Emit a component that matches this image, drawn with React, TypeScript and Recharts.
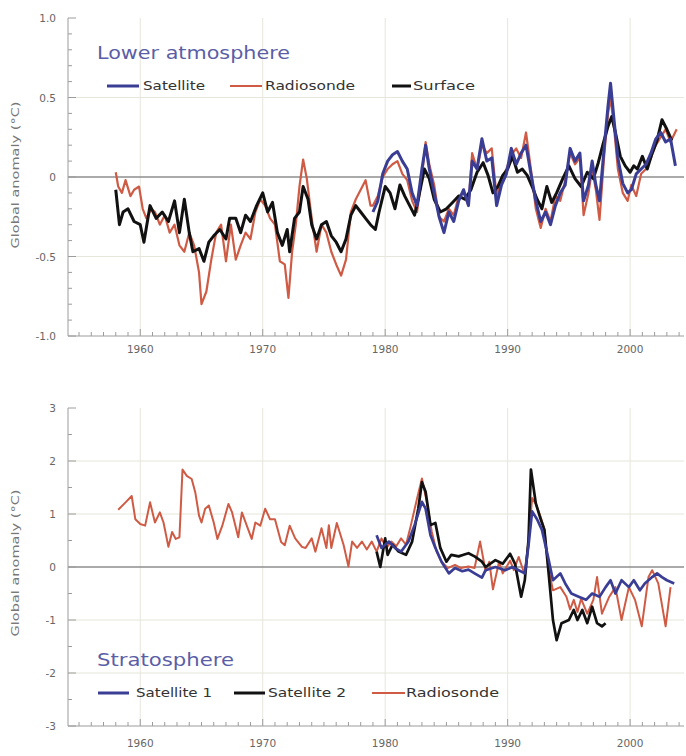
import { LineChart, Line, XAxis, YAxis, CartesianGrid, ReferenceLine } from "recharts"

type Pt = [number, number]

// ---- data (year, anomaly °C) ----

const decadeLabels = [1960, 1970, 1980, 1990, 2000]

const lowerSurface: Pt[] = [
  [1958.0, -0.08], [1958.3, -0.3], [1958.6, -0.22], [1959.0, -0.2], [1959.5, -0.28], [1960.0, -0.3],
  [1960.3, -0.41], [1960.8, -0.18], [1961.3, -0.26], [1961.8, -0.22], [1962.3, -0.28], [1962.8, -0.15],
  [1963.2, -0.35], [1963.6, -0.14], [1964.0, -0.35], [1964.3, -0.47], [1964.8, -0.45], [1965.2, -0.53],
  [1965.6, -0.41], [1966.0, -0.37], [1966.5, -0.33], [1967.0, -0.39], [1967.3, -0.26], [1967.8, -0.26],
  [1968.2, -0.35], [1968.6, -0.24], [1969.0, -0.28], [1969.5, -0.18], [1970.0, -0.1], [1970.4, -0.22],
  [1970.8, -0.16], [1971.2, -0.35], [1971.6, -0.43], [1972.0, -0.33], [1972.2, -0.47], [1972.6, -0.26],
  [1973.0, -0.22], [1973.3, -0.06], [1973.7, -0.14], [1974.0, -0.3], [1974.4, -0.39], [1974.8, -0.3],
  [1975.2, -0.28], [1975.6, -0.37], [1976.0, -0.41], [1976.4, -0.47], [1976.8, -0.39], [1977.2, -0.24],
  [1977.6, -0.18], [1978.0, -0.22], [1978.4, -0.26], [1978.8, -0.3], [1979.2, -0.33], [1979.5, -0.22],
  [1980.0, -0.06], [1980.4, -0.1], [1980.8, -0.2], [1981.2, -0.05], [1981.6, -0.12], [1982.0, -0.18],
  [1982.4, -0.24], [1982.7, -0.14], [1983.2, 0.05], [1983.6, -0.01], [1984.0, -0.14], [1984.5, -0.22],
  [1985.0, -0.2], [1985.5, -0.16], [1986.0, -0.12], [1986.5, -0.14], [1987.0, -0.08], [1987.5, 0.03],
  [1988.0, 0.09], [1988.4, 0.01], [1988.8, -0.1], [1989.2, -0.06], [1989.6, 0.01], [1990.0, 0.05],
  [1990.4, 0.13], [1990.8, 0.03], [1991.2, 0.05], [1991.6, 0.01], [1992.0, -0.06], [1992.4, -0.14],
  [1992.8, -0.2], [1993.2, -0.06], [1993.6, -0.16], [1994.0, -0.1], [1994.5, -0.01], [1995.0, 0.07],
  [1995.5, -0.01], [1996.0, -0.06], [1996.5, 0.03], [1997.0, -0.01], [1997.4, 0.09], [1997.8, 0.21],
  [1998.2, 0.32], [1998.5, 0.38], [1998.8, 0.28], [1999.2, 0.13], [1999.6, 0.07], [2000.0, 0.03],
  [2000.3, 0.07], [2000.6, 0.05], [2001.0, 0.13], [2001.4, 0.05], [2001.8, 0.15], [2002.2, 0.23],
  [2002.6, 0.36], [2003.0, 0.3], [2003.4, 0.23],
]

const lowerRadiosonde: Pt[] = [
  [1958.0, 0.03], [1958.2, -0.06], [1958.5, -0.1], [1958.8, -0.02], [1959.2, -0.12], [1959.5, -0.08],
  [1959.9, -0.06], [1960.2, -0.2], [1960.5, -0.26], [1960.9, -0.2], [1961.2, -0.22], [1961.6, -0.3],
  [1962.0, -0.24], [1962.4, -0.35], [1962.8, -0.3], [1963.2, -0.43], [1963.6, -0.47], [1964.0, -0.35],
  [1964.4, -0.43], [1964.8, -0.6], [1965.0, -0.8], [1965.4, -0.72], [1965.8, -0.52], [1966.2, -0.35],
  [1966.6, -0.3], [1967.0, -0.53], [1967.4, -0.3], [1967.8, -0.52], [1968.2, -0.43], [1968.6, -0.35],
  [1969.0, -0.39], [1969.4, -0.22], [1969.8, -0.14], [1970.2, -0.18], [1970.6, -0.26], [1971.0, -0.3],
  [1971.4, -0.53], [1971.8, -0.55], [1972.1, -0.76], [1972.4, -0.47], [1972.7, -0.3], [1973.0, -0.06],
  [1973.3, 0.11], [1973.6, -0.01], [1974.0, -0.26], [1974.4, -0.47], [1974.8, -0.3], [1975.2, -0.35],
  [1975.6, -0.47], [1976.0, -0.55], [1976.4, -0.62], [1976.8, -0.52], [1977.2, -0.22], [1977.6, -0.14],
  [1978.0, -0.08], [1978.4, -0.02], [1978.8, -0.18], [1979.0, -0.18], [1979.4, -0.12], [1979.8, 0.0],
  [1980.2, 0.05], [1980.6, 0.08], [1981.0, 0.1], [1981.4, 0.02], [1981.8, -0.02], [1982.2, -0.15],
  [1982.6, -0.22], [1983.0, 0.0], [1983.3, 0.22], [1983.6, 0.08], [1984.0, -0.05], [1984.4, -0.25],
  [1984.8, -0.28], [1985.2, -0.2], [1985.6, -0.24], [1986.0, -0.12], [1986.4, -0.1], [1986.8, -0.18],
  [1987.1, 0.15], [1987.5, 0.05], [1987.9, 0.2], [1988.3, 0.15], [1988.7, 0.18], [1989.1, -0.12],
  [1989.5, -0.02], [1989.9, 0.05], [1990.3, 0.14], [1990.7, 0.18], [1991.1, 0.12], [1991.5, 0.28],
  [1991.9, 0.05], [1992.3, -0.2], [1992.7, -0.32], [1993.1, -0.2], [1993.5, -0.28], [1993.9, -0.12],
  [1994.3, -0.15], [1994.7, -0.02], [1995.1, 0.15], [1995.5, 0.08], [1995.9, 0.12], [1996.2, -0.24],
  [1996.6, -0.1], [1996.9, 0.05], [1997.2, -0.08], [1997.5, -0.27], [1997.9, 0.15], [1998.2, 0.4],
  [1998.4, 0.5], [1998.7, 0.3], [1999.0, 0.05], [1999.4, -0.1], [1999.8, -0.15], [2000.1, -0.05],
  [2000.5, -0.12], [2000.9, 0.02], [2001.3, 0.05], [2001.7, 0.12], [2002.1, 0.2], [2002.5, 0.25],
  [2002.9, 0.3], [2003.3, 0.22], [2003.8, 0.3],
]

const lowerSatellite: Pt[] = [
  [1979.0, -0.22], [1979.4, -0.15], [1979.8, 0.02], [1980.2, 0.1], [1980.6, 0.14], [1981.0, 0.16],
  [1981.4, 0.1], [1981.8, 0.05], [1982.2, -0.1], [1982.6, -0.18], [1983.0, 0.05], [1983.3, 0.2],
  [1983.6, 0.05], [1984.0, -0.1], [1984.4, -0.25], [1984.8, -0.35], [1985.2, -0.22], [1985.6, -0.28],
  [1986.0, -0.15], [1986.4, -0.08], [1986.8, -0.18], [1987.1, 0.1], [1987.5, 0.05], [1987.9, 0.24],
  [1988.3, 0.1], [1988.7, 0.12], [1989.1, -0.18], [1989.5, -0.05], [1989.9, 0.02], [1990.3, 0.18],
  [1990.7, 0.08], [1991.1, 0.15], [1991.5, 0.2], [1991.9, 0.02], [1992.3, -0.15], [1992.7, -0.28],
  [1993.1, -0.22], [1993.5, -0.3], [1993.9, -0.18], [1994.3, -0.1], [1994.7, -0.05], [1995.1, 0.18],
  [1995.5, 0.1], [1995.9, 0.15], [1996.2, -0.15], [1996.6, -0.05], [1996.9, 0.1], [1997.2, -0.05],
  [1997.5, -0.15], [1997.9, 0.2], [1998.2, 0.45], [1998.4, 0.59], [1998.7, 0.35], [1999.0, 0.12],
  [1999.4, -0.04], [1999.8, -0.1], [2000.1, -0.08], [2000.5, 0.02], [2000.9, 0.05], [2001.3, 0.08],
  [2001.7, 0.15], [2002.1, 0.24], [2002.5, 0.28], [2002.9, 0.22], [2003.3, 0.24], [2003.7, 0.07],
]

const stratRadiosonde: Pt[] = [
  [1958.2, 1.08], [1958.8, 1.22], [1959.3, 1.34], [1959.6, 0.9], [1960.0, 0.81], [1960.4, 0.78],
  [1960.8, 1.22], [1961.2, 0.84], [1961.6, 1.03], [1961.9, 0.84], [1962.3, 0.38], [1962.6, 0.66],
  [1962.9, 0.53], [1963.2, 0.56], [1963.45, 1.84], [1963.8, 1.72], [1964.2, 1.66], [1964.5, 1.4],
  [1964.8, 0.97], [1965.0, 0.84], [1965.3, 1.1], [1965.6, 1.16], [1966.0, 0.84], [1966.3, 0.53],
  [1966.7, 0.78], [1967.2, 1.19], [1967.5, 1.03], [1968.0, 0.56], [1968.3, 1.03], [1968.7, 0.78],
  [1969.1, 0.53], [1969.4, 0.84], [1969.8, 0.78], [1970.2, 1.1], [1970.6, 0.9], [1971.0, 0.9],
  [1971.5, 0.47], [1971.8, 0.41], [1972.2, 0.78], [1972.65, 0.54], [1973.2, 0.38], [1973.5, 0.36],
  [1974.0, 0.54], [1974.3, 0.29], [1974.8, 0.73], [1975.2, 0.36], [1975.4, 0.79], [1975.6, 0.36],
  [1976.05, 0.83], [1976.6, 0.42], [1977.0, 0.01], [1977.3, 0.48], [1977.7, 0.36], [1978.1, 0.48],
  [1978.5, 0.33], [1978.9, 0.48], [1979.3, 0.29], [1979.7, 0.54], [1980.1, 0.36], [1980.5, 0.48],
  [1980.9, 0.39], [1981.3, 0.54], [1981.7, 0.42], [1982.1, 0.79], [1982.6, 1.29], [1983.0, 1.67],
  [1983.4, 1.23], [1983.8, 0.67], [1984.2, 0.29], [1984.6, 0.1], [1985.1, -0.02], [1985.7, 0.04],
  [1986.2, -0.02], [1986.8, 0.01], [1987.3, -0.02], [1987.75, 0.48], [1988.2, -0.08], [1988.5, 0.1],
  [1988.8, -0.42], [1989.3, 0.1], [1989.6, -0.12], [1990.2, 0.12], [1990.5, -0.06], [1990.9, 0.19],
  [1991.4, -0.15], [1991.7, 0.5], [1992.0, 1.3], [1992.3, 1.19], [1992.7, 0.94], [1993.0, 0.72],
  [1993.3, 0.0], [1993.7, -0.44], [1994.3, -0.38], [1994.8, -0.56], [1995.1, -0.8], [1995.4, -0.62],
  [1995.7, -0.85], [1996.0, -0.6], [1996.5, -0.88], [1997.0, -0.62], [1997.3, -0.19], [1997.7, -0.88],
  [1998.3, -0.56], [1998.8, -0.38], [1999.3, -1.0], [1999.9, -0.38], [2000.4, -0.62], [2000.95, -1.12],
  [2001.5, -0.19], [2001.8, -0.06], [2002.3, -0.31], [2002.9, -1.12], [2003.3, -0.38],
]

const stratSatellite2: Pt[] = [
  [1979.3, 0.29], [1979.6, 0.0], [1980.0, 0.54], [1980.2, 0.23], [1980.6, 0.42], [1981.1, 0.29],
  [1981.7, 0.23], [1982.2, 0.48], [1982.7, 1.1], [1983.0, 1.6], [1983.3, 1.42], [1983.7, 0.79],
  [1984.1, 0.83], [1984.5, 0.36], [1985.0, 0.1], [1985.4, 0.23], [1986.0, 0.2], [1986.4, 0.23],
  [1986.8, 0.26], [1987.3, 0.2], [1987.9, 0.1], [1988.2, 0.0], [1989.0, 0.13], [1989.6, 0.06],
  [1990.2, 0.25], [1990.6, 0.06], [1991.1, -0.56], [1991.4, -0.25], [1991.7, 0.5], [1991.9, 1.84],
  [1992.3, 1.2], [1992.7, 0.9], [1993.0, 0.7], [1993.3, 0.0], [1993.7, -1.0], [1994.0, -1.38],
  [1994.4, -1.06], [1995.0, -1.0], [1995.4, -0.81], [1995.7, -1.0], [1996.1, -0.81], [1996.5, -1.06],
  [1996.9, -0.75], [1997.3, -1.06], [1997.7, -1.12], [1998.0, -1.06],
]

const stratSatellite1: Pt[] = [
  [1979.3, 0.6], [1979.7, 0.36], [1980.3, 0.48], [1980.8, 0.36], [1981.3, 0.29], [1981.9, 0.48],
  [1982.4, 0.79], [1983.0, 1.23], [1983.3, 1.1], [1983.7, 0.6], [1984.1, 0.36], [1984.6, 0.1],
  [1985.2, -0.12], [1985.7, -0.02], [1986.3, -0.08], [1986.8, -0.05], [1987.3, -0.12], [1987.9, -0.2],
  [1988.2, -0.06], [1989.0, 0.0], [1989.8, -0.06], [1990.4, 0.0], [1990.9, -0.06], [1991.4, -0.12],
  [1991.7, 0.4], [1992.0, 1.05], [1992.4, 0.9], [1992.8, 0.7], [1993.3, 0.19], [1993.7, -0.25],
  [1994.3, -0.12], [1994.7, -0.31], [1995.2, -0.5], [1995.8, -0.56], [1996.4, -0.62], [1996.9, -0.5],
  [1997.5, -0.56], [1998.0, -0.38], [1998.4, -0.25], [1998.8, -0.5], [1999.3, -0.25], [1999.9, -0.38],
  [2000.3, -0.25], [2000.8, -0.44], [2001.2, -0.31], [2001.8, -0.19], [2002.2, -0.12], [2002.6, -0.19],
  [2003.0, -0.25], [2003.6, -0.31],
]

const lowerYTicks = [-1, -0.9, -0.8, -0.7, -0.6, -0.5, -0.4, -0.3, -0.2, -0.1, 0, 0.1, 0.2, 0.3, 0.4, 0.5, 0.6, 0.7, 0.8, 0.9, 1]
const lowerYLabels = [-1, -0.5, 0, 0.5, 1]
const stratYTicks = [-3, -2.5, -2, -1.5, -1, -0.5, 0, 0.5, 1, 1.5, 2, 2.5, 3]
const stratYLabels = [-3, -2, -1, 0, 1, 2, 3]

// ---- styling ----
const X_DOMAIN: [number, number] = [1954.1, 2004.4]
const yearTicks = Array.from({ length: 50 }, (_, i) => 1955 + i)
const FRAME = "#9c9c9c"
const GRID = "#e6e6dc"
const FONT = "'DejaVu Sans', 'Open Sans', sans-serif"
const BLUE = "#3a3d94"
const RED = "#cf5b45"
const BLACK = "#111111"
const TITLE = "#5b5ea6"

const toRows = (pts: Pt[]) => pts.map(([year, value]) => ({ year, value }))

interface Series {
  name: string
  pts: Pt[]
  color: string
  width: number
}

interface PanelProps {
  top: number
  marginTop: number
  axisHeight: number
  labelDy: number
  yDomain: [number, number]
  yTicks: number[]
  yLabels: number[]
  fmtY: (v: number) => string
  gridY: number[]
  series: Series[]
}

function Panel({ top, marginTop, axisHeight, labelDy, yDomain, yTicks, yLabels, fmtY, gridY, series }: PanelProps) {
  const bottomTick = (p: any) => {
    const major = decadeLabels.includes(p.payload.value)
    return (
      <g>
        <line x1={p.x} x2={p.x} y1={p.y} y2={p.y - (major ? 7 : 4)} stroke={FRAME} />
        {major && (
          <text x={p.x} y={p.y + labelDy} textAnchor="middle" fontSize={10.5} fill="#666" fontFamily={FONT}>
            {p.payload.value}
          </text>
        )}
      </g>
    )
  }
  const topTick = (p: any) => {
    const major = decadeLabels.includes(p.payload.value)
    return <line x1={p.x} x2={p.x} y1={p.y} y2={p.y + (major ? 7 : 4)} stroke={FRAME} />
  }
  const leftTick = (p: any) => {
    const major = yLabels.includes(p.payload.value)
    return (
      <g>
        <line x1={p.x} x2={p.x + (major ? 8 : 4)} y1={p.y} y2={p.y} stroke={FRAME} />
        {major && (
          <text x={p.x - 12} y={p.y + 4} textAnchor="end" fontSize={10.5} fill="#666" fontFamily={FONT}>
            {fmtY(p.payload.value)}
          </text>
        )}
      </g>
    )
  }
  const rightTick = (p: any) => {
    const major = yLabels.includes(p.payload.value)
    return <line x1={p.x} x2={p.x - (major ? 8 : 4)} y1={p.y} y2={p.y} stroke={FRAME} />
  }

  return (
    <div style={{ position: "absolute", left: 0, top }}>
      <LineChart width={686} height={378} margin={{ top: marginTop, right: 2, bottom: 0, left: 0 }}>
        <CartesianGrid verticalValues={decadeLabels} horizontalValues={gridY} stroke={GRID} />
        <XAxis
          dataKey="year"
          type="number"
          domain={X_DOMAIN}
          allowDataOverflow
          ticks={yearTicks}
          interval={0}
          height={axisHeight}
          tickSize={0}
          tickMargin={0}
          tickLine={false}
          axisLine={{ stroke: FRAME }}
          tick={bottomTick}
        />
        <XAxis
          xAxisId="t"
          orientation="top"
          dataKey="year"
          type="number"
          domain={X_DOMAIN}
          allowDataOverflow
          ticks={yearTicks}
          interval={0}
          height={0}
          tickSize={0}
          tickMargin={0}
          tickLine={false}
          axisLine={{ stroke: FRAME }}
          tick={topTick}
        />
        <YAxis
          type="number"
          domain={yDomain}
          allowDataOverflow
          ticks={yTicks}
          interval={0}
          width={68}
          tickSize={0}
          tickMargin={0}
          tickLine={false}
          axisLine={{ stroke: FRAME }}
          tick={leftTick}
        />
        <YAxis
          yAxisId="r"
          orientation="right"
          type="number"
          domain={yDomain}
          allowDataOverflow
          ticks={yTicks}
          interval={0}
          width={0}
          tickSize={0}
          tickMargin={0}
          tickLine={false}
          axisLine={{ stroke: FRAME }}
          tick={rightTick}
        />
        <ReferenceLine y={0} stroke="#8e8e8e" strokeWidth={1.5} />
        {series.map((s) => (
          <Line
            key={s.name}
            data={toRows(s.pts)}
            dataKey="value"
            name={s.name}
            type="linear"
            stroke={s.color}
            strokeWidth={s.width}
            strokeLinejoin="round"
            dot={false}
            activeDot={false}
            isAnimationActive={false}
          />
        ))}
      </LineChart>
    </div>
  )
}

function LegendItem({ x1, x2, y, color, width, label, tx, tl }: any) {
  return (
    <g>
      <line x1={x1} x2={x2} y1={y} y2={y} stroke={color} strokeWidth={width} />
      <text x={tx} y={y + 4} fontSize={12} fill="#333" fontFamily={FONT} textLength={tl} lengthAdjust="spacingAndGlyphs">
        {label}
      </text>
    </g>
  )
}

function YTitle({ cy }: { cy: number }) {
  return (
    <text
      transform={`translate(19, ${cy}) rotate(-90)`}
      textAnchor="middle"
      fontSize={10.5}
      fill="#777"
      fontFamily={FONT}
      textLength={147}
      lengthAdjust="spacingAndGlyphs"
    >
      Global anomaly (°C)
    </text>
  )
}

export default function App() {
  return (
    <div style={{ position: "absolute", left: 0, top: 0, width: 686, height: 756, background: "#fff", overflow: "hidden" }}>
      <Panel
        top={0}
        marginTop={18}
        axisHeight={42}
        labelDy={17}
        yDomain={[-1, 1]}
        yTicks={lowerYTicks}
        yLabels={lowerYLabels}
        fmtY={(v) => (v === 0 ? "0" : v.toFixed(1))}
        gridY={[-0.5, 0.5]}
        series={[
          { name: "Radiosonde", pts: lowerRadiosonde, color: RED, width: 2.2 },
          { name: "Surface", pts: lowerSurface, color: BLACK, width: 3 },
          { name: "Satellite", pts: lowerSatellite, color: BLUE, width: 3 },
        ]}
      />
      <Panel
        top={378}
        marginTop={30}
        axisHeight={30}
        labelDy={21}
        yDomain={[-3, 3]}
        yTicks={stratYTicks}
        yLabels={stratYLabels}
        fmtY={(v) => String(v)}
        gridY={[-2, -1, 1, 2]}
        series={[
          { name: "Radiosonde", pts: stratRadiosonde, color: RED, width: 2 },
          { name: "Satellite 2", pts: stratSatellite2, color: BLACK, width: 2.7 },
          { name: "Satellite 1", pts: stratSatellite1, color: BLUE, width: 2.7 },
        ]}
      />
      <svg width={686} height={756} style={{ position: "absolute", left: 0, top: 0, pointerEvents: "none" }}>
        <YTitle cy={175} />
        <YTitle cy={563} />
        <text x={97} y={59} fontSize={17} fill={TITLE} fontFamily={FONT} textLength={193} lengthAdjust="spacingAndGlyphs">
          Lower atmosphere
        </text>
        <LegendItem x1={107} x2={139} y={86} color={BLUE} width={3} label="Satellite" tx={143} tl={62} />
        <LegendItem x1={230} x2={262} y={86} color={RED} width={2} label="Radiosonde" tx={265} tl={90} />
        <LegendItem x1={392} x2={411} y={86} color={BLACK} width={3} label="Surface" tx={413} tl={62} />
        <text x={97} y={666} fontSize={17} fill={TITLE} fontFamily={FONT} textLength={137} lengthAdjust="spacingAndGlyphs">
          Stratosphere
        </text>
        <LegendItem x1={98} x2={129} y={693} color={BLUE} width={3} label="Satellite 1" tx={136} tl={76} />
        <LegendItem x1={234} x2={265} y={693} color={BLACK} width={3} label="Satellite 2" tx={268} tl={78} />
        <LegendItem x1={372} x2={405} y={693} color={RED} width={2} label="Radiosonde" tx={406} tl={93} />
      </svg>
    </div>
  )
}
